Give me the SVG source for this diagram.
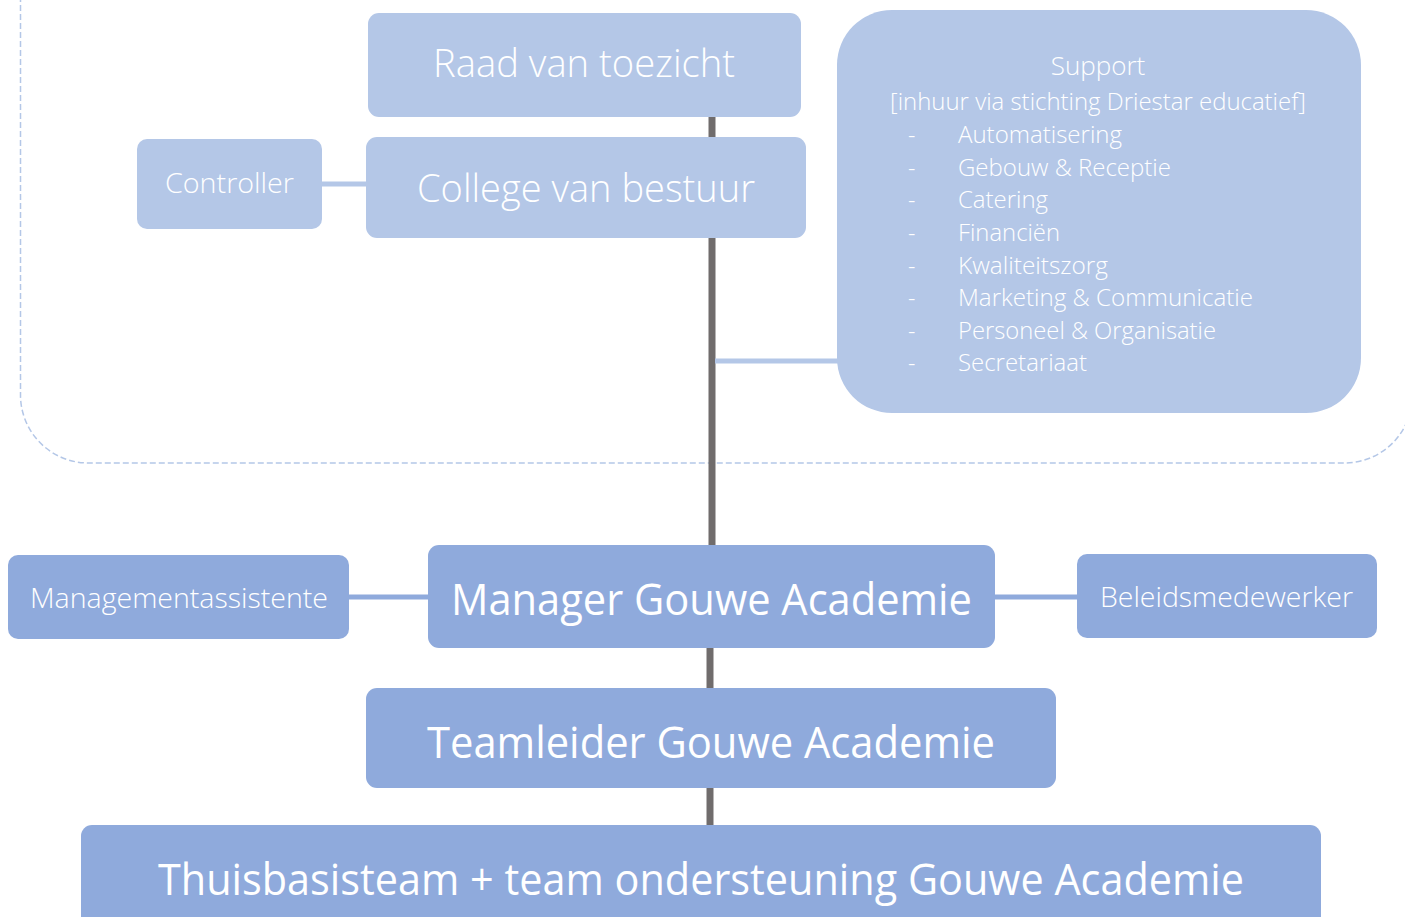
<svg xmlns="http://www.w3.org/2000/svg" width="1405" height="917" viewBox="0 0 1405 917">
<style>
.n1{fill:#b4c7e7}
.n2{fill:#8faadc}
.t{fill:#ffffff;font-family:"Open Sans","Noto Sans","Liberation Sans",sans-serif;font-weight:300}
.tb{fill:#ffffff;font-family:"Open Sans","Noto Sans","Liberation Sans",sans-serif;font-weight:400}
.dark{stroke:#706c6c;stroke-width:7;fill:none}
.light{stroke:#b4c7e7;stroke-width:5;fill:none}
.light2{stroke:#8faadc;stroke-width:5;fill:none}
</style>
<rect width="1405" height="917" fill="#ffffff"/>
<rect id="container" x="20.5" y="-120" width="1392" height="583" rx="68" fill="none" stroke="#b4c7e7" stroke-width="1.5" stroke-dasharray="6 3"/>
<g id="connectors">
<line class="dark" x1="712" y1="115" x2="712" y2="140"/>
<line class="dark" x1="712" y1="236" x2="712" y2="548"/>
<line class="dark" x1="710" y1="646" x2="710" y2="690"/>
<line class="dark" x1="710" y1="786" x2="710" y2="827"/>
<line class="light" x1="320" y1="184" x2="368" y2="184"/>
<line class="light" x1="715" y1="361" x2="840" y2="361"/>
<line class="light2" x1="347" y1="597" x2="430" y2="597"/>
<line class="light2" x1="993" y1="597" x2="1079" y2="597"/>
</g>
<g id="raad">
<rect class="n1" x="368" y="13" width="433" height="104" rx="11"/>
<text class="t" x="433" y="77" font-size="38" textLength="302" lengthAdjust="spacingAndGlyphs">Raad van toezicht</text>
</g>
<g id="college">
<rect class="n1" x="366" y="137" width="440" height="101" rx="11"/>
<text class="t" x="417" y="202" font-size="38" textLength="338" lengthAdjust="spacingAndGlyphs">College van bestuur</text>
</g>
<g id="controller">
<rect class="n1" x="137" y="139" width="185" height="90" rx="10"/>
<text class="t" x="165" y="193" font-size="27" textLength="129" lengthAdjust="spacingAndGlyphs">Controller</text>
</g>
<g id="support">
<rect class="n1" x="837" y="10" width="524" height="403" rx="55"/>
<text class="t" x="1098" y="75" font-size="26" text-anchor="middle">Support</text>
<text class="t" x="890" y="110" font-size="23" textLength="416" lengthAdjust="spacingAndGlyphs">[inhuur via stichting Driestar educatief]</text>
<g class="t" font-size="23">
<text x="908" y="143">-</text><text x="958" y="143" textLength="164" lengthAdjust="spacingAndGlyphs">Automatisering</text>
<text x="908" y="176">-</text><text x="958" y="176" textLength="213" lengthAdjust="spacingAndGlyphs">Gebouw &amp; Receptie</text>
<text x="908" y="208">-</text><text x="958" y="208" textLength="90" lengthAdjust="spacingAndGlyphs">Catering</text>
<text x="908" y="241">-</text><text x="958" y="241" textLength="102" lengthAdjust="spacingAndGlyphs">Financiën</text>
<text x="908" y="274">-</text><text x="958" y="274" textLength="150" lengthAdjust="spacingAndGlyphs">Kwaliteitszorg</text>
<text x="908" y="306">-</text><text x="958" y="306" textLength="295" lengthAdjust="spacingAndGlyphs">Marketing &amp; Communicatie</text>
<text x="908" y="339">-</text><text x="958" y="339" textLength="258" lengthAdjust="spacingAndGlyphs">Personeel &amp; Organisatie</text>
<text x="908" y="371">-</text><text x="958" y="371" textLength="129" lengthAdjust="spacingAndGlyphs">Secretariaat</text>
</g>
</g>
<g id="managementassistente">
<rect class="n2" x="8" y="555" width="341" height="84" rx="10"/>
<text class="t" x="30" y="608" font-size="27" textLength="298" lengthAdjust="spacingAndGlyphs">Managementassistente</text>
</g>
<g id="manager">
<rect class="n2" x="428" y="545" width="567" height="103" rx="11"/>
<text class="tb" x="451" y="615" font-size="44" textLength="521" lengthAdjust="spacingAndGlyphs">Manager Gouwe Academie</text>
</g>
<g id="beleidsmedewerker">
<rect class="n2" x="1077" y="554" width="300" height="84" rx="10"/>
<text class="t" x="1100" y="607" font-size="27" textLength="253" lengthAdjust="spacingAndGlyphs">Beleidsmedewerker</text>
</g>
<g id="teamleider">
<rect class="n2" x="366" y="688" width="690" height="100" rx="11"/>
<text class="tb" x="427" y="758" font-size="44" textLength="568" lengthAdjust="spacingAndGlyphs">Teamleider Gouwe Academie</text>
</g>
<g id="thuisbasisteam">
<rect class="n2" x="81" y="825" width="1240" height="120" rx="11"/>
<text class="tb" x="158" y="895" font-size="44" textLength="1086" lengthAdjust="spacingAndGlyphs">Thuisbasisteam + team ondersteuning Gouwe Academie</text>
</g>
</svg>
